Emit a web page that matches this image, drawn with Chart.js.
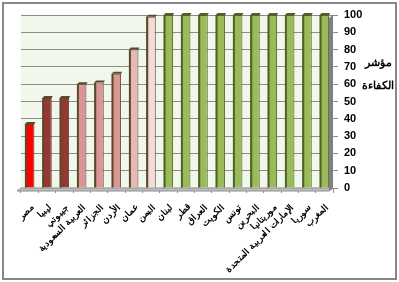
<!DOCTYPE html>
<html>
<head>
<meta charset="utf-8">
<script src="https://cdn.jsdelivr.net/npm/chart.js"></script>
<style>
  body { margin: 0; background: #fff; }
  #box { position: absolute; left: 0; top: 0; width: 399px; height: 282px; }
</style>
</head>
<body>
<div id="box"><canvas id="myChart" width="399" height="282"></canvas></div>
<script>
// countries, left to right as in the picture
const countries = [
  'مصر', 'ليبيا', 'جيبوتي', 'العربية السعودية', 'الجزائر', 'الأردن',
  'عمان', 'اليمن', 'لبنان', 'قطر', 'العراق', 'الكويت', 'تونس', 'البحرين',
  'موريتانيا', 'الإمارات العربية المتحدة', 'سوريا', 'المغرب'
];
// efficiency index
const efficiency = [37, 52, 52, 60, 61, 66, 80, 99, 100, 100, 100, 100, 100, 100, 100, 100, 100, 100];
const yTicks = [0, 10, 20, 30, 40, 50, 60, 70, 80, 90, 100];
const axisTitle = ['مؤشر', 'الكفاءة'];

const fills = [
  '#ff0000', '#953735', '#953735', '#d99694', '#d99694', '#d99694',
  '#e6b9b8', '#f2dcdb', '#9bbb59', '#9bbb59', '#9bbb59', '#9bbb59',
  '#9bbb59', '#9bbb59', '#9bbb59', '#9bbb59', '#9bbb59', '#9bbb59'
];
const edges = fills.map(c => c === '#9bbb59' ? '#4f6228' : '#5a4a2a');

const DX = 4, DY = 3;

const look3d = {
  id: 'look3d',
  beforeDraw(chart) {
    const { ctx, chartArea: a } = chart;
    ctx.save();
    // back wall
    ctx.fillStyle = '#f2f7ec';
    ctx.fillRect(a.left, a.top, a.right - a.left, a.bottom - a.top);
    ctx.restore();
  },
  beforeDatasetsDraw(chart) {
    const { ctx, chartArea: a } = chart;
    ctx.save();
    // floor
    ctx.fillStyle = '#bfbfbf';
    ctx.beginPath();
    ctx.moveTo(a.left - DX, a.bottom + DY);
    ctx.lineTo(a.right - DX, a.bottom + DY);
    ctx.lineTo(a.right, a.bottom);
    ctx.lineTo(a.left, a.bottom);
    ctx.closePath();
    ctx.fill();
    ctx.strokeStyle = '#8c8c8c';
    ctx.lineWidth = 1;
    ctx.stroke();
    // side wall
    ctx.fillStyle = '#808080';
    ctx.beginPath();
    ctx.moveTo(a.right - DX, a.top + DY);
    ctx.lineTo(a.right, a.top);
    ctx.lineTo(a.right, a.bottom);
    ctx.lineTo(a.right - DX, a.bottom + DY);
    ctx.closePath();
    ctx.fill();
    ctx.restore();
  },
  afterDatasetsDraw(chart) {
    const { ctx } = chart;
    const meta = chart.getDatasetMeta(0);
    ctx.save();
    meta.data.forEach((bar, i) => {
      const half = bar.width / 2;
      const l = bar.x - half, r = bar.x + half;
      // left shaded side
      ctx.fillStyle = edges[i];
      ctx.fillRect(l, bar.y, 2, bar.base - bar.y);
      // top cap
      ctx.beginPath();
      ctx.moveTo(l, bar.y);
      ctx.lineTo(l + 2, bar.y - 2);
      ctx.lineTo(r + 1, bar.y - 2);
      ctx.lineTo(r, bar.y);
      ctx.closePath();
      ctx.fill();
    });
    ctx.restore();
  },
  afterDraw(chart) {
    const { ctx } = chart;
    ctx.save();
    ctx.strokeStyle = '#878787';
    ctx.lineWidth = 2;
    ctx.strokeRect(3, 3, 393, 276);
    ctx.fillStyle = '#000';
    ctx.font = 'bold 11px Arial';
    ctx.textAlign = 'center';
    ctx.fillText(axisTitle[0], 378, 66);
    ctx.fillText(axisTitle[1], 378, 89);
    ctx.restore();
  }
};

new Chart(document.getElementById('myChart'), {
  type: 'bar',
  data: {
    labels: countries,
    datasets: [{
      data: efficiency,
      backgroundColor: fills,
      borderColor: edges,
      borderWidth: 1,
      barPercentage: 0.55,
      categoryPercentage: 1
    }]
  },
  options: {
    responsive: false,
    animation: false,
    layout: { padding: { top: 15, left: 21, right: 33, bottom: 0 } },
    plugins: { legend: { display: false }, tooltip: { enabled: false } },
    scales: {
      x: {
        grid: { display: true, drawOnChartArea: false, tickLength: 5, color: '#8c8c8c', offset: true },
        border: { display: false },
        ticks: {
          color: '#000',
          font: { family: 'Arial', size: 9, weight: 'bold' },
          minRotation: 45, maxRotation: 45,
          autoSkip: false, padding: 9, labelOffset: 3
        },
        afterFit(scale) { scale.height = 94; }
      },
      y: {
        position: 'right',
        min: 0, max: 100,
        afterBuildTicks(scale) { scale.ticks = yTicks.map(v => ({ value: v })); },
        grid: { color: '#8c8c8c', tickLength: 5 },
        border: { display: false },
        ticks: {
          color: '#000',
          font: { family: 'Arial', size: 11, weight: 'bold' },
          padding: 6,
          autoSkip: false
        },
        afterFit(scale) { scale.width = 33; }
      }
    }
  },
  plugins: [look3d]
});
</script>
</body>
</html>
